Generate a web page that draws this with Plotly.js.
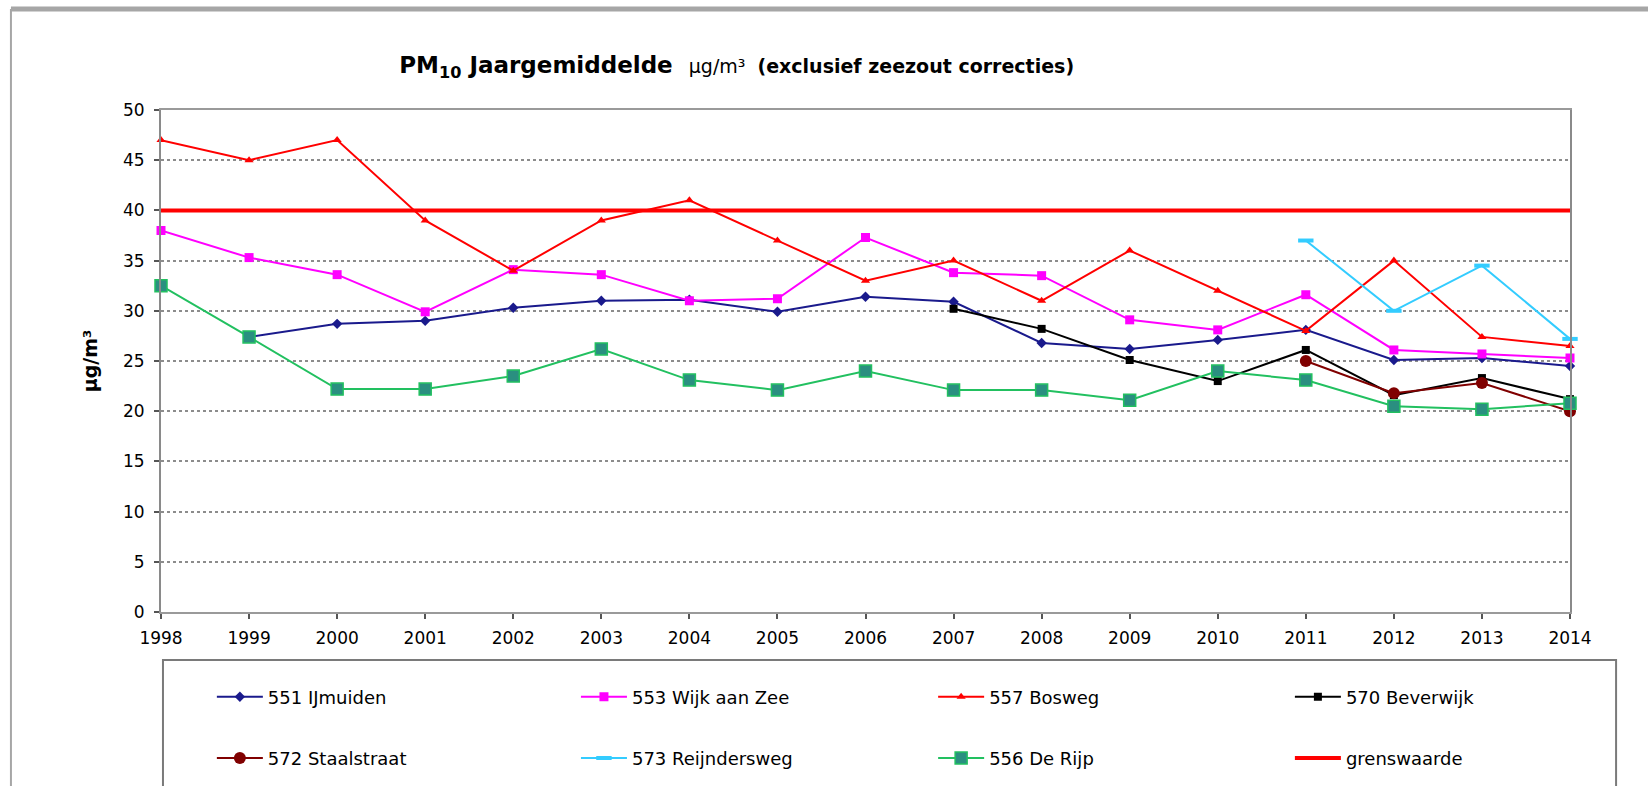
<!DOCTYPE html>
<html>
<head>
<meta charset="utf-8">
<script src="https://cdn.plot.ly/plotly-3.0.1.min.js"></script>
<style>
  html, body { margin: 0; padding: 0; background: #ffffff; }
  #chart { width: 1648px; height: 786px; }
</style>
</head>
<body>
<div id="chart"></div>
<script>
// ---- data ----
const years = [1998, 1999, 2000, 2001, 2002, 2003, 2004, 2005, 2006, 2007, 2008, 2009, 2010, 2011, 2012, 2013, 2014];
const ijmuiden     = [null, 27.4, 28.7, 29.0, 30.3, 31.0, 31.1, 29.9, 31.4, 30.9, 26.8, 26.2, 27.1, 28.1, 25.1, 25.3, 24.5];
const wijkAanZee   = [38.0, 35.3, 33.6, 29.9, 34.1, 33.6, 31.0, 31.2, 37.3, 33.8, 33.5, 29.1, 28.1, 31.6, 26.1, 25.7, 25.3];
const bosweg       = [47.0, 45.0, 47.0, 39.0, 34.0, 39.0, 41.0, 37.0, 33.0, 35.0, 31.0, 36.0, 32.0, 28.0, 35.0, 27.4, 26.5];
const beverwijk    = [null, null, null, null, null, null, null, null, null, 30.2, 28.2, 25.1, 23.0, 26.1, 21.6, 23.3, 21.2];
const staalstraat  = [null, null, null, null, null, null, null, null, null, null, null, null, null, 25.0, 21.8, 22.8, 20.0];
const reijndersweg = [null, null, null, null, null, null, null, null, null, null, null, null, null, 37.0, 30.0, 34.5, 27.2];
const deRijp       = [32.5, 27.4, 22.2, 22.2, 23.5, 26.2, 23.1, 22.1, 24.0, 22.1, 22.1, 21.1, 24.0, 23.1, 20.5, 20.2, 20.8];
const grenswaarde  = [40, 40, 40, 40, 40, 40, 40, 40, 40, 40, 40, 40, 40, 40, 40, 40, 40];
const seriesNames  = ['551 IJmuiden', '553 Wijk aan Zee', '557 Bosweg', '570 Beverwijk',
                      '572 Staalstraat', '573 Reijndersweg', '556 De Rijp', 'grenswaarde'];
const yTicks = [0, 5, 10, 15, 20, 25, 30, 35, 40, 45, 50];

const FONT = 'DejaVu Sans, Liberation Sans, Arial, sans-serif';

function series(y, name, color, symbol, size, legend, extra) {
  return Object.assign({
    type: 'scatter', mode: 'lines+markers', x: years, y: y, name: name,
    line: {color: color, width: 2},
    marker: {color: color, symbol: symbol, size: size},
    cliponaxis: false, legend: legend, legendgroup: name
  }, extra || {});
}

// columns of the legend: (551, 572) (553, 573) (557, 556) (570, grenswaarde)
const traces = [
  series(ijmuiden, seriesNames[0], '#1a1a8c', 'diamond', 8, 'legend'),
  series(wijkAanZee, seriesNames[1], '#ff00ff', 'square', 9, 'legend2'),
  series(bosweg, seriesNames[2], '#ff0000', 'triangle-up', 8, 'legend3'),
  series(beverwijk, seriesNames[3], '#000000', 'square', 8, 'legend4'),
  series(staalstraat, seriesNames[4], '#800000', 'circle', 12, 'legend'),
  series(reijndersweg, seriesNames[5], '#33ccff', 'line-ew', 10, 'legend2',
         {marker: {color: '#33ccff', symbol: 'line-ew', size: 11, line: {color: '#33ccff', width: 4}}}),
  series(deRijp, seriesNames[6], '#22c060', 'square', 12, 'legend3',
         {marker: {color: '#2a8f80', symbol: 'square', size: 12, line: {color: '#22c060', width: 1.5}}}),
  series(grenswaarde, seriesNames[7], '#ff0000', 'circle', 1, 'legend4',
         {mode: 'lines', line: {color: '#ff0000', width: 4}})
];

function legendAt(x) {
  return {
    orientation: 'v', xref: 'paper', yref: 'paper', x: x, xanchor: 'left', y: -0.2301, yanchor: 'middle',
    itemwidth: 46, tracegroupgap: 35,
    bgcolor: 'rgba(0,0,0,0)', borderwidth: 0,
    font: {family: FONT, size: 18, color: '#000000'}
  };
}

const layout = {
  width: 1648, height: 786,
  paper_bgcolor: '#ffffff', plot_bgcolor: '#ffffff',
  margin: {l: 161, r: 78, t: 110, b: 174, autoexpand: false},
  showlegend: true,
  title: {
    text: '<b>PM<sub>10</sub> Jaargemiddelde&nbsp;&nbsp;</b><span style="font-size:19px">µg/m³&nbsp;&nbsp;</span><span style="font-size:19px"><b>(exclusief zeezout correcties)</b></span>',
    font: {family: FONT, size: 23, color: '#000000'},
    xref: 'container', yref: 'container', x: 0.447, xanchor: 'center', y: 0.917, yanchor: 'middle'
  },
  xaxis: {
    range: [1998, 2014], tickmode: 'array', tickvals: years, ticktext: years.map(String),
    showgrid: false, zeroline: false,
    showline: true, mirror: true, linecolor: '#9a9a9a', linewidth: 2,
    ticks: 'outside', ticklen: 5, tickcolor: '#555555', tickwidth: 1.5,
    ticklabelstandoff: 5,
    tickfont: {family: FONT, size: 17, color: '#000000'}
  },
  yaxis: {
    range: [0, 50], tickmode: 'array', tickvals: yTicks,
    showgrid: true, gridcolor: '#8c8c8c', griddash: 'dot', gridwidth: 1.5,
    zeroline: false,
    showline: true, mirror: true, linecolor: '#8a8a8a', linewidth: 2,
    ticks: 'outside', ticklen: 5, tickcolor: '#555555', tickwidth: 1.5,
    ticklabelstandoff: 6,
    tickfont: {family: FONT, size: 17, color: '#000000'},
    title: {text: '<b>µg/m³</b>', font: {family: FONT, size: 19, color: '#000000'}, standoff: 20}
  },
  legend: legendAt(0.0361),
  legend2: legendAt(0.2945),
  legend3: legendAt(0.548),
  legend4: legendAt(0.8012),
  shapes: [
    // legend frame
    {type: 'rect', xref: 'paper', yref: 'paper', x0: 0.0014, x1: 1.0327, y0: -0.0956, y1: -0.40,
     line: {color: '#7a7a7a', width: 2}, fillcolor: 'rgba(0,0,0,0)', layer: 'below'},
    // outer frame (top and left)
    {type: 'line', xref: 'paper', yref: 'paper', x0: -0.1065, x1: 1.06, y0: 1.2012, y1: 1.2012,
     line: {color: '#a6a6a6', width: 5}},
    {type: 'line', xref: 'paper', yref: 'paper', x0: -0.1065, x1: -0.1065, y0: 1.2012, y1: -0.40,
     line: {color: '#a6a6a6', width: 2}}
  ]
};

Plotly.newPlot('chart', traces, layout, {displayModeBar: false, responsive: false});
</script>
</body>
</html>
